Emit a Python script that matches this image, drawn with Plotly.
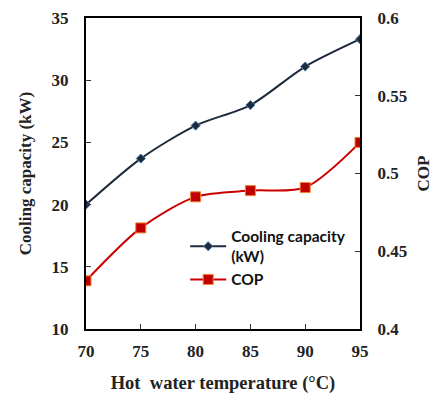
import plotly.graph_objects as go

temps = [70, 75, 80, 85, 90, 95]
cooling = [20.0, 23.7, 26.35, 28.0, 31.1, 33.3]
cop = [0.431, 0.465, 0.485, 0.489, 0.491, 0.520]

x_ticks = [70, 75, 80, 85, 90, 95]
y_ticks = [10, 15, 20, 25, 30, 35]
y2_ticks = [0.4, 0.45, 0.5, 0.55, 0.6]
y2_labels = ["0.4", "0.45", "0.5", "0.55", "0.6"]

serif = "Liberation Serif"
tickfont = dict(family=serif, size=17, color="#222", weight="bold")
titlefont = dict(family=serif, size=17, color="#222", weight="bold")

fig = go.Figure()
fig.add_trace(go.Scatter(
    x=temps, y=cooling, name="Cooling capacity<br>(kW)", mode="lines+markers",
    line=dict(color="#1c2a3a", width=2, shape="spline", smoothing=0.8),
    marker=dict(symbol="diamond", size=7, color="#1c2a3a", line=dict(color="#4a7ab0", width=1)),
    yaxis="y"))
fig.add_trace(go.Scatter(
    x=temps, y=cop, name="COP", mode="lines+markers",
    line=dict(color="#cc0000", width=2, shape="spline", smoothing=0.8),
    marker=dict(symbol="square", size=10, color="#c00000", line=dict(color="#f08030", width=1)),
    yaxis="y2"))

fig.update_layout(
    width=433, height=394,
    margin=dict(l=86, r=73, t=18, b=65),
    plot_bgcolor="white", paper_bgcolor="white",
    showlegend=True,
    legend=dict(x=0.362, y=0.352, xanchor="left", yanchor="top",
                font=dict(family="Lato", size=15.5, color="#111", weight="bold"),
                bgcolor="rgba(0,0,0,0)", tracegroupgap=0, itemwidth=36),
    xaxis=dict(range=[70, 95], tickvals=x_ticks, ticks="inside", ticklen=5, tickwidth=1,
               tickcolor="#333", showline=True, linecolor="black", linewidth=2, mirror=True,
               showgrid=False, zeroline=False, tickfont=tickfont, ticklabelstandoff=6,
               automargin=False,
               title=dict(text="Hot  water temperature (°C)", font=dict(family=serif, size=18.5, color="#222", weight="bold"), standoff=18)),
    yaxis=dict(range=[10, 35], tickvals=y_ticks, ticks="inside", ticklen=5, tickwidth=1,
               tickcolor="#333", showline=True, linecolor="black", linewidth=2,
               showgrid=False, zeroline=False, tickfont=tickfont, ticklabelstandoff=12,
               automargin=False,
               title=dict(text="Cooling capacity (kW)", font=titlefont, standoff=16)),
    yaxis2=dict(range=[0.4, 0.6], tickvals=y2_ticks, ticktext=y2_labels, overlaying="y", side="right",
                ticks="inside", ticklen=5, tickwidth=1, tickcolor="#333",
                showline=True, linecolor="black", linewidth=2,
                showgrid=False, zeroline=False, tickfont=tickfont, ticklabelstandoff=12,
                automargin=False,
                title=dict(text="COP", font=titlefont, standoff=14)),
)
fig.write_html("out.html")
